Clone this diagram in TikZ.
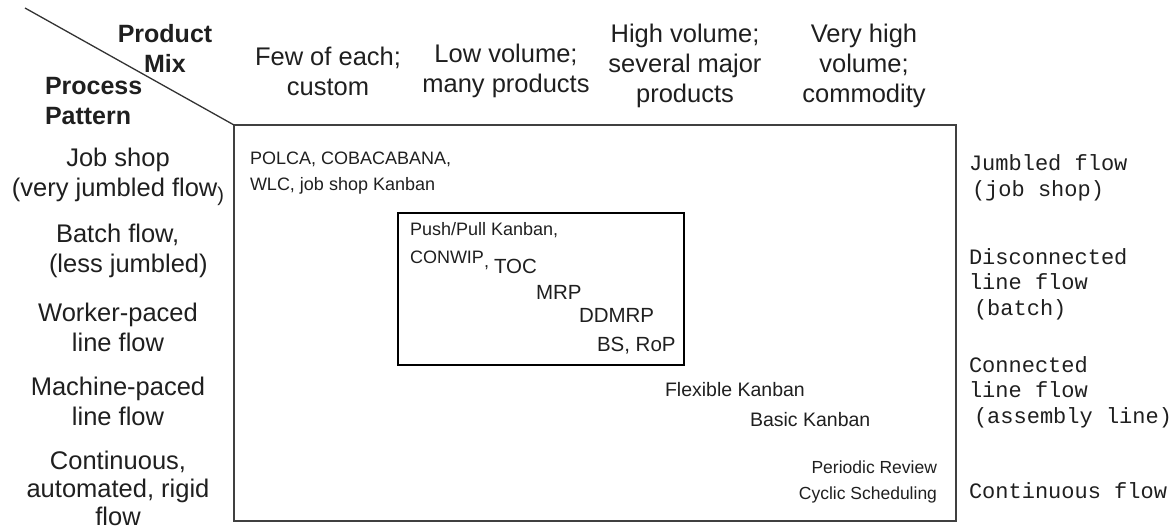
\documentclass[tikz,border=0pt]{standalone}
\usepackage{fontspec}
\setmainfont{Liberation Sans}
\setmonofont{Liberation Mono}
\begin{document}
\begin{tikzpicture}[x=1pt,y=-1pt,
  every node/.style={inner sep=0pt, outer sep=0pt, text=black!88},
  hdr/.style={font=\fontsize{25.5}{30}\selectfont, align=center},
  hdrb/.style={font=\fontsize{25}{30}\selectfont\bfseries},
  cell/.style={font=\fontsize{18}{26}\selectfont, anchor=west, align=left},
  cellb/.style={font=\fontsize{20.5}{26}\selectfont, anchor=west},
  mono/.style={font=\ttfamily\fontsize{22}{25.5}\selectfont, anchor=west, align=left},
  frame/.style={draw=black!75, line width=1.5pt},
  ibox/.style={draw=black, line width=1.2pt}]
\useasboundingbox (0,0) rectangle (1172,529);
% frames
\node[frame, anchor=north west, minimum width=722pt, minimum height=396pt] (box) at (234,125) {};
\node[ibox, anchor=north west, minimum width=286pt, minimum height=152pt] (ibox) at (398,213) {};
\coordinate (dstart) at (25,8);
\draw[line width=1.3pt, black!80] (dstart) -- (box.north west);
% corner headings
\node[hdrb, align=center] (pm) at (165,48) {Product\\Mix};
\node[hdrb, align=left, anchor=west] (pp) at (45,101) {Process\\Pattern};
% column headings
\node[hdr] (c1) at (328,71) {Few of each;\\custom};
\node[hdr] (c2) at (506,71) {Low volume;\\many products};
\node[hdr] (c3) at (685,66) {High volume;\\several major\\products};
\node[hdr] (c4) at (864,66) {Very high\\volume;\\commodity};
% row headings
\node[hdr] (r1) at (118,177) {Job shop\\(very jumbled flow\raisebox{-5pt}{\fontsize{20}{20}\selectfont)}};
\node[hdr, align=left, anchor=west] (r2) at (49,251) {\hspace*{7pt}Batch flow,\\(less jumbled)};
\node[hdr] (r3) at (118,327) {Worker-paced\\line flow};
\node[hdr] (r4) at (118,401) {Machine-paced\\line flow};
\node[hdr, font=\fontsize{25.5}{28}\selectfont] (r5) at (118,488) {Continuous,\\automated, rigid\\flow};
% cells
\node[cell] (polca) at (250,173) {POLCA, COBACABANA,\\WLC, job shop Kanban};
\node[cell] (push) at (410,230) {Push/Pull Kanban,};
\node[cell, anchor=base west] (conwip) at (410,264) {CONWIP\raisebox{-4pt}{,}};
\node[cellb, anchor=base west] (toc) at (494,274) {TOC};
\node[cellb] (mrp) at (536,292) {MRP};
\node[cellb] (ddmrp) at (579,315) {DDMRP};
\node[cellb] (bs) at (597,346) {BS, RoP};
\node[cellb, font=\fontsize{19.5}{26}\selectfont] (flex) at (665,390) {Flexible Kanban};
\node[cellb, font=\fontsize{19.5}{26}\selectfont] (basic) at (750,420) {Basic Kanban};
\node[cell, font=\fontsize{17.5}{26}\selectfont, anchor=east, align=right] (periodic) at (937,482) {Periodic Review\\Cyclic Scheduling};
% right labels
\node[mono] (m1) at (969,178) {Jumbled flow\\\hspace*{3pt}(job shop)};
\node[mono] (m2) at (969,284) {Disconnected\\line flow\\\hspace*{5pt}(batch)};
\node[mono] (m3) at (969,392) {Connected\\line flow\\\hspace*{5pt}(assembly line)};
\node[mono] (m4) at (969,491) {Continuous flow};
\end{tikzpicture}
\end{document}
